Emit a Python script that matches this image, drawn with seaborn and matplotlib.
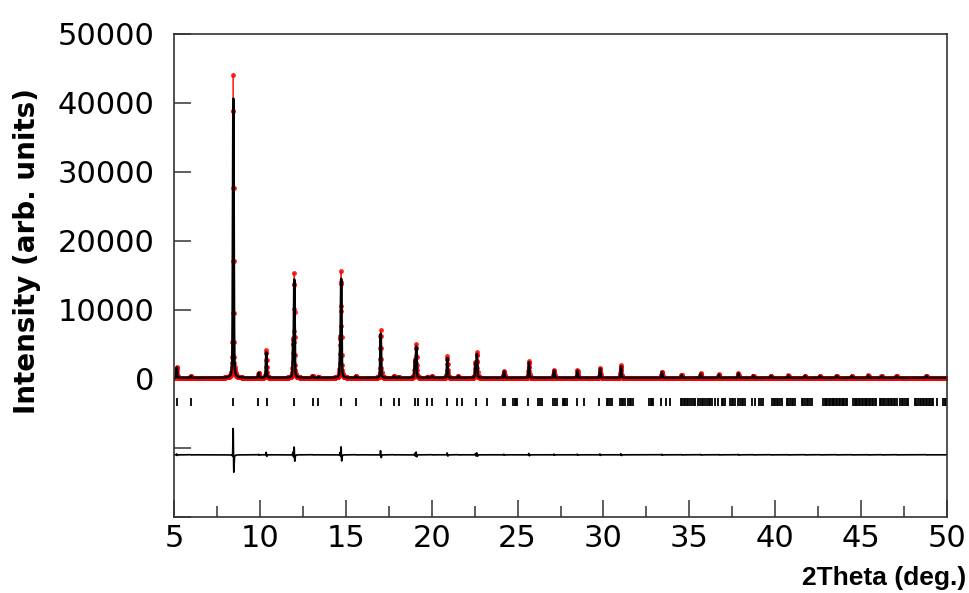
import numpy as np
import matplotlib
matplotlib.use('Agg')
import matplotlib.pyplot as plt
import seaborn as sns
from matplotlib.ticker import MultipleLocator

peak_pos = [5.16, 5.97, 8.45, 9.93, 10.37, 11.93, 12.00, 13.07, 13.40, 14.67,
            14.73, 15.59, 17.03, 17.80, 18.08, 19.02, 19.10, 19.74, 20.02, 20.91,
            21.55, 22.55, 22.63, 24.21, 25.66, 27.12, 28.48, 29.80, 31.02, 33.40,
            34.55, 35.66, 36.72, 37.85, 38.72, 39.75, 40.76, 41.73, 42.60, 43.57,
            44.45, 45.41, 46.19, 47.06, 48.80]
obs_height = [1600, 250, 43800, 750, 4000, 5000, 15000, 300, 150, 4500,
              15100, 250, 6900, 250, 150, 2500, 4800, 150, 250, 3100,
              250, 2200, 3600, 1000, 2400, 1150, 1100, 1400, 1800, 900,
              400, 650, 500, 700, 300, 300, 350, 300, 250, 300,
              250, 350, 250, 250, 300]
calc_height = [1500, 230, 40600, 700, 3700, 4650, 14000, 280, 140, 4200,
               14000, 230, 6400, 230, 140, 2330, 4450, 140, 230, 2880,
               230, 2050, 3350, 930, 2230, 1070, 1020, 1300, 1670, 840,
               370, 600, 465, 650, 280, 280, 325, 280, 230, 280,
               230, 325, 230, 230, 280]
background = 150
zero_shift = 0.002
fwhm_obs = 0.05
fwhm_calc = 0.054
eta = 0.4
diff_offset = -11000

# Bragg reflection markers
bragg_pos = [5.16, 5.97, 8.45, 9.91, 10.40, 11.98, 13.07, 13.40, 14.72, 15.59,
             17.03, 17.80, 18.08, 19.03, 19.22, 19.71, 20.00, 20.91, 21.49, 21.75,
             22.58, 23.20, 24.13, 24.28, 24.75, 24.83, 24.91, 24.98, 25.62, 26.20,
             26.30, 26.40, 27.08, 27.17, 27.27, 27.62, 27.70, 27.78, 27.86, 28.48,
             28.87, 29.74, 30.19, 30.29, 30.39, 30.48, 30.96, 31.06, 31.16, 31.25,
             31.44, 31.53, 31.62, 31.70, 32.67, 32.75, 32.83, 32.90, 33.33, 33.62,
             33.87, 34.51, 34.59, 34.67, 34.76, 34.84, 34.94, 35.05, 35.15, 35.25,
             35.33, 35.52, 35.62, 35.72, 35.82, 35.91, 36.01, 36.12, 36.22, 36.30,
             36.50, 36.68, 36.88, 36.98, 37.07, 37.36, 37.46, 37.56, 37.66, 37.85,
             37.95, 38.05, 38.15, 38.24, 38.63, 38.82, 39.05, 39.17, 39.30, 39.79,
             39.90, 40.00, 40.10, 40.18, 40.27, 40.37, 40.66, 40.76, 40.86, 40.96,
             41.05, 41.14, 41.54, 41.64, 41.74, 41.83, 41.92, 42.02, 42.12, 42.79,
             42.87, 42.95, 43.03, 43.12, 43.20, 43.28, 43.36, 43.45, 43.53, 43.61,
             43.70, 43.78, 43.86, 43.94, 44.03, 44.10, 44.16, 44.54, 44.62, 44.70,
             44.78, 44.87, 44.95, 45.03, 45.12, 45.20, 45.28, 45.37, 45.45, 45.53,
             45.62, 45.70, 45.78, 45.86, 46.09, 46.18, 46.27, 46.36, 46.45, 46.54,
             46.63, 46.72, 46.81, 46.90, 46.99, 47.07, 47.26, 47.36, 47.46, 47.55,
             47.65, 47.74, 48.13, 48.22, 48.31, 48.40, 48.49, 48.58, 48.67, 48.76,
             48.85, 48.94, 49.03, 49.12, 49.20, 49.39, 49.78, 49.87, 49.97]
bragg_lo, bragg_hi = -3950, -2800

ytick_vals = [-20000, -10000, 0, 10000, 20000, 30000, 40000, 50000]
ytick_labels = ['', '', '0', '10000', '20000', '30000', '40000', '50000']

two_theta = np.arange(5.0, 50.0001, 0.01)


def profile(x, centre, fw):
    u = (x - centre) / fw
    return eta / (1 + 4 * u ** 2) + (1 - eta) * np.exp(-4 * np.log(2) * u ** 2)


y_obs = background + sum(h * profile(two_theta, p, fwhm_obs)
                         for p, h in zip(peak_pos, obs_height))
y_calc = background + sum(h * profile(two_theta, p + zero_shift, fwhm_calc)
                          for p, h in zip(peak_pos, calc_height))
y_diff = y_obs - y_calc + diff_offset

sns.set_theme(style='ticks')
plt.rcParams['font.family'] = ['DejaVu Sans']
plt.rcParams['text.color'] = 'black'
plt.rcParams['axes.labelcolor'] = 'black'
plt.rcParams['xtick.labelcolor'] = 'black'
plt.rcParams['ytick.labelcolor'] = 'black'

fig, ax = plt.subplots(figsize=(9.7, 5.93), dpi=100)
fig.subplots_adjust(left=0.1794, right=0.9763, top=0.9435, bottom=0.1282)

sns.lineplot(x=two_theta, y=y_obs, color='red', lw=0.9, marker='o',
             markersize=3.5, markeredgewidth=0, alpha=0.85,
             estimator=None, sort=False, ax=ax)
sns.lineplot(x=two_theta, y=y_calc, color='black', lw=1.8,
             estimator=None, sort=False, ax=ax)
sns.lineplot(x=two_theta, y=y_diff, color='black', lw=1.2,
             estimator=None, sort=False, ax=ax)
ax.vlines(bragg_pos, bragg_lo, bragg_hi, color='black', lw=1.3)

ax.set_xlim(5, 50)
ax.set_ylim(-20000, 50000)
ax.set_yticks(ytick_vals)
ax.set_yticklabels(ytick_labels)
ax.xaxis.set_major_locator(MultipleLocator(5))
ax.xaxis.set_minor_locator(MultipleLocator(2.5))

ax.tick_params(axis='both', which='major', direction='in', length=12,
               width=1.1, color='#333333', labelsize=22, top=False, right=False)
ax.tick_params(axis='x', which='minor', direction='in', length=8,
               width=1.1, color='#333333', top=False)
ax.tick_params(axis='y', pad=14)
ax.tick_params(axis='x', pad=5)
for sp in ax.spines.values():
    sp.set_linewidth(1.2)
    sp.set_color('#333333')

ax.set_ylabel('Intensity (arb. units)', fontsize=20, fontweight='bold',
              family=['DejaVu Sans'], color='black')
ax.yaxis.label.set_va('center')
ax.yaxis.set_label_coords(-0.19, 0.55)
ax.set_xlabel('2Theta (deg.)', fontsize=19, fontweight='bold',
              family=['Liberation Sans', 'DejaVu Sans'], color='black')
ax.xaxis.set_label_coords(0.918, -0.102)

plt.savefig('out.png', dpi=100)
